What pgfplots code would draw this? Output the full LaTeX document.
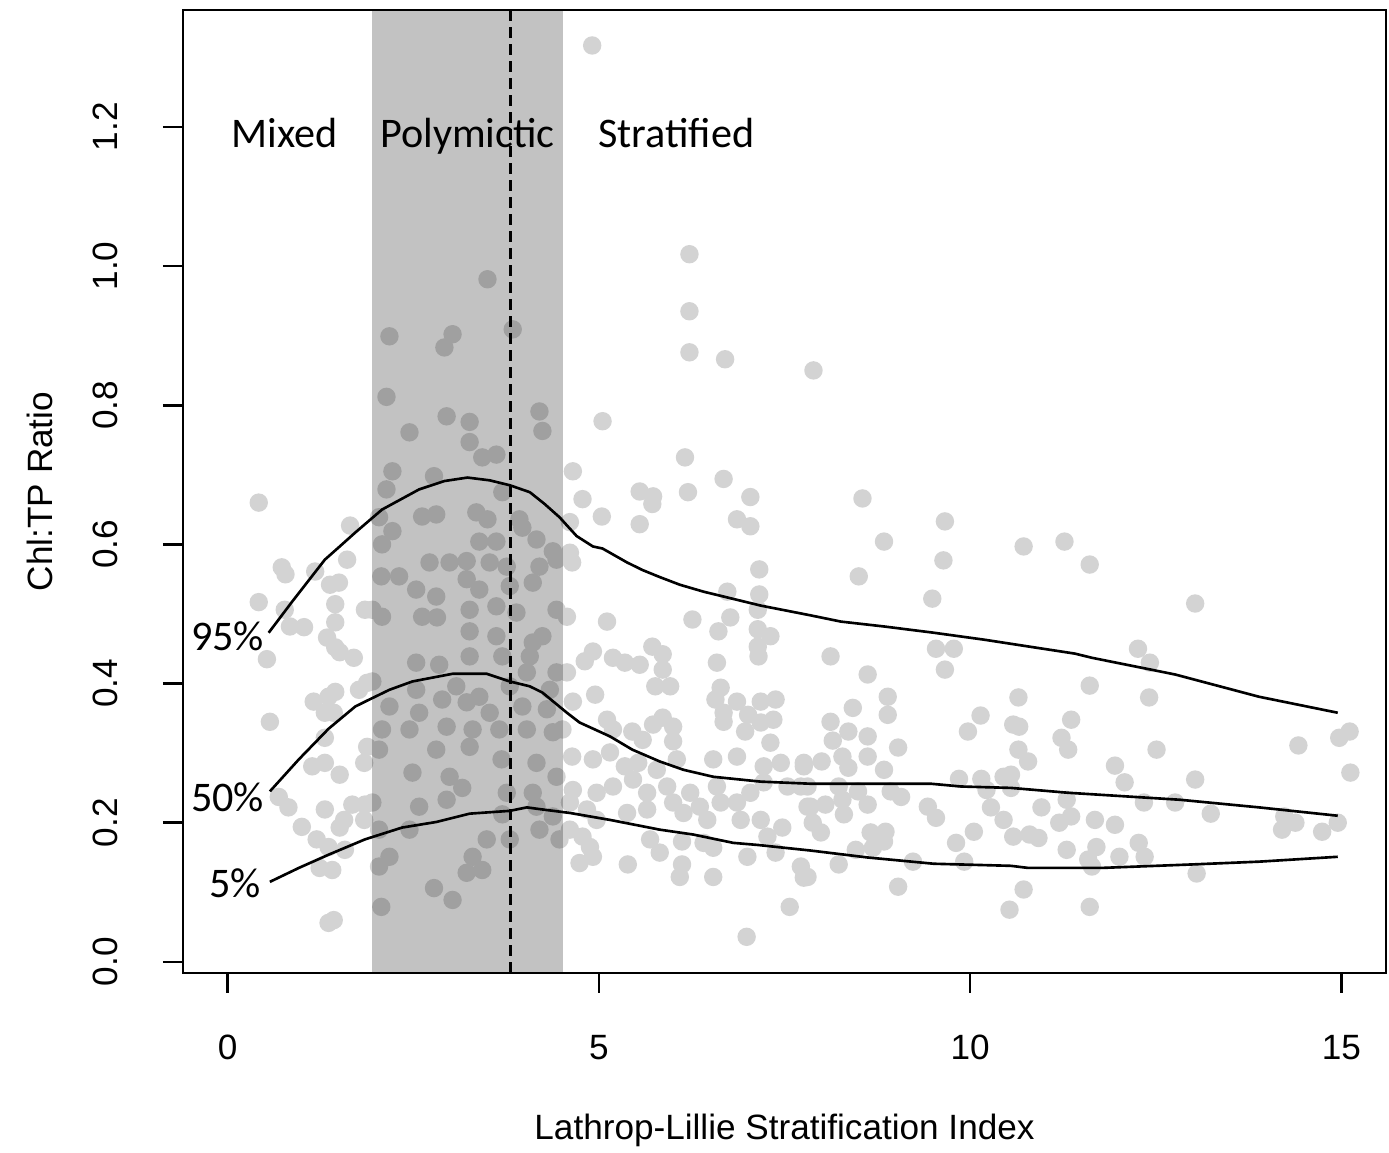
\documentclass[border=0pt]{standalone}
\usepackage{pgfplots}
\pgfplotsset{compat=1.18}
\usepackage{fontspec}
\setmainfont{Liberation Sans}
\newfontfamily\carlito{Carlito}
\definecolor{ptgray}{HTML}{D3D3D3}
\begin{document}
\begin{tikzpicture}
\begin{axis}[
  name=ax,
  scale only axis,
  width=120.3mm, height=96.3mm,
  xmin=-0.6, xmax=15.6, ymin=-0.016, ymax=1.368,
  axis line style={line width=0.75pt},
  every tick/.style={black, line width=0.75pt},
  tick align=outside,
  major tick length=2.0mm,
  tick pos=left,
  xtick={0,5,10,15}, xticklabels={0,5,10,15},
  ytick={0,0.2,0.4,0.6,0.8,1.0,1.2}, yticklabels={0.0,0.2,0.4,0.6,0.8,1.0,1.2},
  tick label style={font=\fontsize{10}{12}\selectfont},
  xticklabel shift=3.0mm,
  yticklabel style={rotate=90, anchor=south},
  yticklabel shift=3.3mm,
  xlabel={Lathrop-Lillie Stratification Index},
  ylabel={Chl:TP Ratio},
  label style={font=\fontsize{10}{12}\selectfont},
  xlabel style={at={(axis description cs:0.5,-0.163)}, anchor=center},
  ylabel style={at={(axis description cs:-0.119,0.5)}, anchor=center},
  clip=false,
  clip marker paths=true,
]
\addplot[only marks, mark=*, mark size=0.85mm, color=ptgray, mark options={fill=ptgray, draw=ptgray}] table {
x y
0.42 0.660
1.65 0.627
0.73 0.567
0.78 0.557
1.18 0.561
1.61 0.578
1.38 0.542
1.50 0.545
0.42 0.517
0.77 0.506
0.84 0.482
1.03 0.481
1.45 0.514
1.45 0.488
1.85 0.506
1.34 0.466
1.45 0.452
1.51 0.445
1.70 0.437
0.53 0.435
1.16 0.374
1.36 0.381
1.45 0.388
1.31 0.358
1.43 0.358
1.77 0.391
1.88 0.401
0.57 0.345
1.31 0.322
1.14 0.281
1.31 0.286
1.51 0.269
1.84 0.286
1.88 0.309
0.69 0.237
0.82 0.222
1.31 0.219
1.68 0.226
1.85 0.226
1.57 0.204
1.51 0.193
1.84 0.204
1.00 0.194
1.20 0.176
1.36 0.165
1.58 0.161
1.24 0.135
1.41 0.132
1.43 0.060
1.36 0.056
3.50 0.981
2.18 0.899
3.03 0.902
2.92 0.883
3.84 0.909
2.14 0.812
2.95 0.784
3.26 0.776
2.45 0.761
4.20 0.791
4.24 0.763
3.26 0.747
3.43 0.725
3.62 0.729
2.22 0.705
2.78 0.698
2.14 0.679
3.70 0.675
2.04 0.639
2.62 0.640
2.81 0.643
3.35 0.646
3.50 0.636
3.93 0.636
2.22 0.619
2.08 0.600
3.39 0.604
3.62 0.604
3.97 0.624
4.16 0.607
4.38 0.590
2.72 0.574
2.99 0.574
3.22 0.576
3.53 0.574
3.76 0.568
4.20 0.568
4.43 0.578
2.07 0.554
2.31 0.554
2.54 0.535
2.81 0.525
3.22 0.550
3.39 0.535
3.80 0.540
4.11 0.545
1.95 0.506
2.08 0.496
2.62 0.496
2.82 0.495
3.26 0.506
3.62 0.511
3.89 0.502
4.43 0.506
3.62 0.468
3.26 0.475
4.24 0.468
4.11 0.459
3.26 0.439
2.54 0.430
2.85 0.427
3.70 0.439
4.07 0.439
1.95 0.403
2.54 0.391
3.08 0.396
3.39 0.381
3.80 0.396
4.03 0.416
4.34 0.391
4.43 0.416
2.18 0.367
2.58 0.358
2.89 0.377
3.22 0.373
3.53 0.358
3.97 0.367
4.30 0.363
2.08 0.334
2.45 0.334
2.95 0.338
3.30 0.334
3.66 0.334
4.03 0.334
4.38 0.330
2.04 0.305
2.81 0.305
3.26 0.309
3.69 0.291
4.16 0.286
2.49 0.272
2.99 0.266
4.43 0.266
3.16 0.250
3.76 0.243
4.11 0.243
1.95 0.229
2.58 0.223
2.95 0.233
4.16 0.223
3.70 0.212
4.38 0.209
2.04 0.190
2.45 0.190
3.49 0.176
3.80 0.176
4.20 0.190
4.47 0.176
2.18 0.151
3.30 0.151
2.04 0.137
3.22 0.128
3.43 0.132
2.78 0.106
3.03 0.089
2.07 0.079
4.91 1.317
6.22 1.017
6.22 0.935
6.22 0.876
6.70 0.866
7.89 0.850
5.05 0.777
6.16 0.725
4.65 0.705
6.68 0.694
5.55 0.676
5.73 0.669
6.20 0.675
7.04 0.668
4.78 0.665
5.04 0.640
5.55 0.629
5.72 0.658
6.86 0.636
7.04 0.626
4.61 0.632
4.61 0.588
4.64 0.574
7.16 0.564
6.73 0.532
7.16 0.528
7.14 0.506
4.57 0.496
5.11 0.489
6.26 0.492
6.77 0.495
6.61 0.475
7.14 0.478
7.31 0.468
7.14 0.453
7.15 0.439
4.92 0.446
4.81 0.432
5.19 0.437
5.35 0.430
5.55 0.427
5.72 0.453
5.86 0.442
5.86 0.420
6.59 0.430
4.57 0.416
5.76 0.396
5.96 0.396
4.95 0.384
4.65 0.374
6.64 0.394
6.57 0.377
6.86 0.374
7.18 0.374
7.38 0.377
6.68 0.358
6.68 0.345
7.01 0.355
7.35 0.348
7.18 0.344
5.11 0.348
5.19 0.334
5.45 0.331
5.73 0.341
5.86 0.351
6.00 0.338
5.59 0.319
6.00 0.317
6.97 0.331
7.31 0.315
4.51 0.334
4.64 0.295
4.92 0.291
5.15 0.301
5.35 0.281
5.53 0.286
5.78 0.276
6.05 0.291
6.54 0.291
6.86 0.295
7.22 0.281
7.45 0.286
7.76 0.281
4.65 0.247
4.97 0.243
5.19 0.252
5.46 0.262
5.65 0.243
5.92 0.252
6.23 0.243
6.59 0.252
6.64 0.229
7.04 0.243
7.22 0.258
7.54 0.252
7.72 0.252
4.61 0.229
4.84 0.219
4.97 0.204
5.38 0.214
5.65 0.219
6.00 0.229
6.14 0.214
6.36 0.223
6.46 0.204
6.86 0.229
6.91 0.204
7.18 0.204
7.81 0.223
4.61 0.190
4.78 0.180
4.88 0.165
5.69 0.176
6.12 0.173
6.41 0.171
6.54 0.164
7.00 0.151
7.27 0.180
7.47 0.193
7.38 0.157
5.82 0.157
4.92 0.151
4.74 0.142
5.39 0.140
6.12 0.140
6.09 0.122
6.54 0.122
7.72 0.137
7.81 0.122
7.57 0.079
6.99 0.036
8.55 0.666
9.66 0.633
8.84 0.604
10.72 0.597
11.27 0.604
11.61 0.571
9.64 0.577
8.50 0.554
9.49 0.522
8.12 0.439
8.62 0.413
9.54 0.450
9.78 0.450
9.66 0.420
11.61 0.397
8.89 0.381
10.65 0.380
8.42 0.365
8.89 0.355
8.12 0.345
8.36 0.331
8.62 0.324
8.15 0.318
9.03 0.308
9.97 0.331
10.14 0.354
10.58 0.341
10.66 0.338
10.65 0.305
10.78 0.288
11.36 0.348
11.23 0.322
11.32 0.305
7.76 0.286
8.00 0.288
8.28 0.295
8.36 0.279
8.62 0.295
8.84 0.276
9.85 0.263
10.15 0.263
10.22 0.247
10.45 0.266
10.55 0.269
10.55 0.250
7.81 0.252
8.23 0.252
8.49 0.245
8.93 0.245
9.07 0.237
7.85 0.223
8.05 0.226
8.28 0.233
8.30 0.212
8.62 0.226
9.43 0.223
9.54 0.207
10.28 0.222
10.45 0.204
10.96 0.222
11.30 0.233
11.36 0.209
11.20 0.200
11.68 0.204
7.88 0.200
7.99 0.186
8.66 0.186
8.86 0.187
8.84 0.173
10.05 0.187
9.81 0.171
10.58 0.180
10.80 0.183
10.92 0.178
11.30 0.161
11.70 0.165
8.46 0.161
8.69 0.164
8.23 0.140
9.23 0.144
9.92 0.144
11.59 0.147
11.64 0.137
7.76 0.121
9.03 0.108
10.72 0.104
10.53 0.075
11.61 0.079
13.03 0.515
12.26 0.450
12.42 0.430
12.41 0.380
12.51 0.305
14.42 0.311
14.97 0.322
15.11 0.331
11.95 0.282
12.08 0.258
13.03 0.262
12.34 0.229
12.76 0.229
13.24 0.213
11.95 0.197
14.23 0.209
14.38 0.200
14.20 0.190
14.74 0.187
14.95 0.200
15.12 0.272
12.27 0.171
12.35 0.151
12.01 0.151
13.05 0.127
};
% shaded polymictic band
\addplot[draw=none, fill=black, fill opacity=0.24] coordinates {(1.94,-0.016) (4.52,-0.016) (4.52,1.368) (1.94,1.368)} -- cycle;
% dashed line
\addplot[black, line width=0.85pt, dash pattern=on 1.1mm off 0.6mm] coordinates {(3.81,-0.016) (3.81,1.368)};
% 95% curve
\addplot[black, line width=0.75pt] coordinates {
(0.554,0.473) (0.865,0.517) (1.135,0.554) (1.31,0.578) (1.50,0.596) (1.72,0.617) (2.08,0.650)
(2.58,0.679) (2.92,0.691) (3.23,0.696) (3.53,0.692) (3.80,0.685) (4.07,0.675) (4.27,0.658)
(4.47,0.639) (4.70,0.612) (4.92,0.597) (5.05,0.594) (5.38,0.574) (5.59,0.563) (5.82,0.553)
(6.09,0.542) (6.41,0.532) (6.68,0.525) (7.18,0.512) (7.85,0.498) (8.26,0.489) (8.84,0.482)
(9.51,0.473) (10.19,0.463) (10.86,0.452) (11.41,0.443) (11.64,0.437) (12.76,0.413)
(13.89,0.381) (14.95,0.358)};
% 50% curve
\addplot[black, line width=0.75pt] coordinates {
(0.57,0.245) (0.96,0.291) (1.36,0.335) (1.72,0.367) (1.91,0.377) (2.18,0.391) (2.49,0.403)
(3.03,0.414) (3.49,0.414) (3.80,0.403) (4.07,0.396) (4.24,0.387) (4.57,0.358) (4.74,0.344)
(5.15,0.324) (5.45,0.305) (5.82,0.288) (6.14,0.276) (6.54,0.266) (7.18,0.259) (7.85,0.256)
(9.47,0.256) (9.88,0.252) (10.55,0.250) (11.32,0.243) (11.77,0.240) (12.82,0.233)
(13.89,0.222) (14.95,0.210)};
% 5% curve
\addplot[black, line width=0.75pt] coordinates {
(0.57,0.115) (0.96,0.135) (1.36,0.154) (1.85,0.176) (2.35,0.193) (2.81,0.201) (3.26,0.213)
(3.80,0.217) (4.03,0.222) (4.24,0.219) (4.61,0.214) (5.15,0.204) (5.82,0.190) (6.27,0.183)
(6.81,0.171) (7.14,0.168) (7.85,0.160) (8.62,0.150) (9.51,0.141) (10.55,0.138) (10.78,0.135)
(11.77,0.135) (12.99,0.140) (13.89,0.144) (14.95,0.151)};
\begin{scope}[every node/.style={font=\carlito\fontsize{12}{14}\selectfont, inner sep=0pt}]
\node[anchor=base] at (axis cs:0.77,1.170) {Mixed};
\node[anchor=base] at (axis cs:3.23,1.170) {Polymictic};
\node[anchor=base] at (axis cs:6.04,1.170) {Stratified};
\node[anchor=base east] at (axis cs:0.50,0.448) {95\%};
\node[anchor=base east] at (axis cs:0.50,0.216) {50\%};
\node[anchor=base east] at (axis cs:0.46,0.092) {5\%};
\end{scope}
\end{axis}
\pgfresetboundingbox
\path ([shift={(-18.3mm,-18.0mm)}]ax.south west) rectangle ([shift={(0.3mm,1.0mm)}]ax.north east);
\end{tikzpicture}
\end{document}
